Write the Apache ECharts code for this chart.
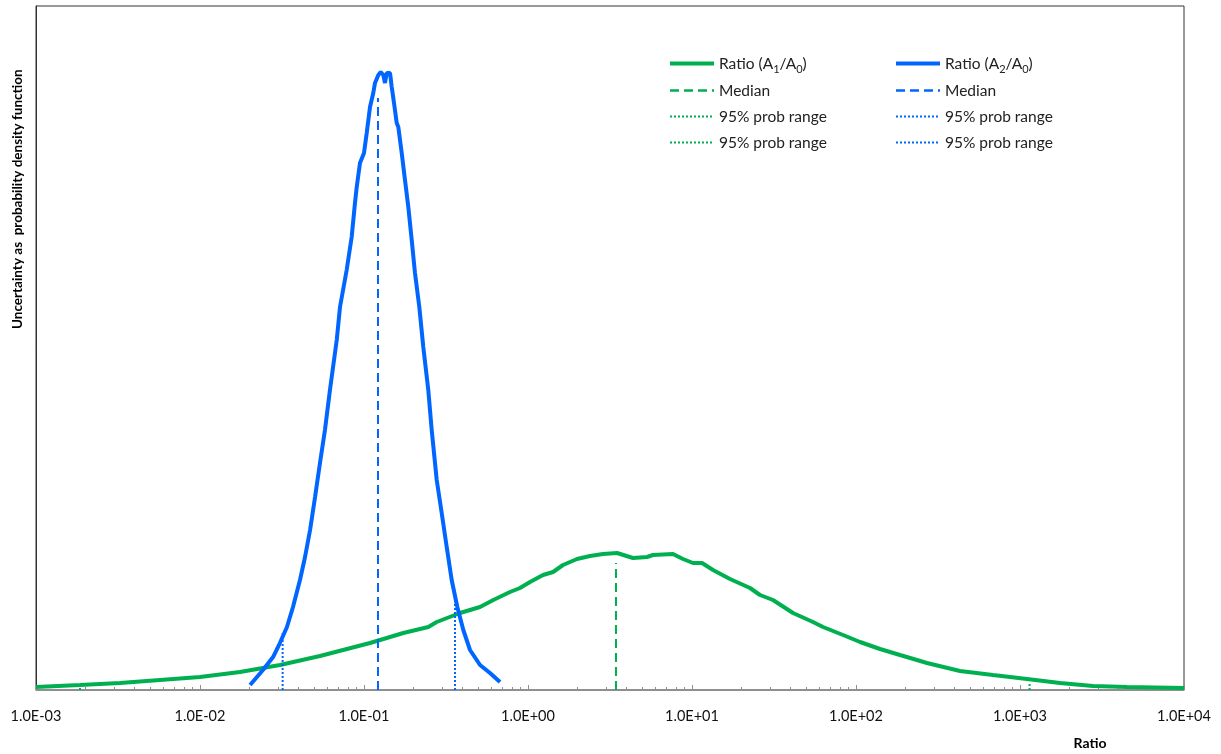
<!DOCTYPE html>
<html>
<head>
<meta charset="utf-8">
<script src="https://cdn.jsdelivr.net/npm/echarts@6/dist/echarts.min.js"></script>
<style>
html,body{margin:0;padding:0;background:#fff;}
#chart{width:1221px;height:754px;}
</style>
</head>
<body>
<div id="chart"></div>
<script>
// ---- data ----
const greenX = [0.001,0.001855,0.003252,0.005703,0.01,0.01754,0.03074,0.05391,0.1088,0.1376,0.1736,0.2466,0.2776,0.3849,0.5098,0.6143,0.7767,0.8937,1.0285,1.235,1.421,1.635,1.990,2.388,2.866,3.489,4.367,5.316,5.783,7.660,8.812,10.14,11.51,13.43,17.05,22.58,25.98,31.18,41.30,54.66,62.93,83.34,105.8,140.1,185.5,271.0,430.7,684.4,1103,1754,2787,4491,10000];
const greenY = [0.03,0.05,0.07,0.10,0.13,0.18,0.25,0.34,0.47,0.52,0.57,0.63,0.68,0.77,0.83,0.90,0.98,1.02,1.08,1.15,1.18,1.25,1.31,1.34,1.36,1.37,1.32,1.33,1.35,1.36,1.31,1.27,1.27,1.20,1.11,1.02,0.95,0.90,0.77,0.68,0.63,0.55,0.48,0.41,0.35,0.27,0.19,0.15,0.11,0.07,0.04,0.03,0.02];
const blueX = [0.0202,0.0242,0.0279,0.0307,0.0339,0.0369,0.0407,0.0437,0.0469,0.0503,0.0539,0.0578,0.0620,0.0682,0.0714,0.0784,0.0841,0.0881,0.0903,0.0945,0.1000,0.1039,0.1088,0.1139,0.1167,0.1223,0.1265,0.1312,0.1343,0.1376,0.1441,0.1476,0.1524,0.1583,0.1619,0.1698,0.1778,0.1863,0.1954,0.2046,0.2174,0.2299,0.2466,0.2587,0.2776,0.2977,0.3194,0.3425,0.3707,0.4032,0.4430,0.5098,0.5865,0.6750];
const blueY = [0.05,0.20,0.33,0.47,0.63,0.83,1.10,1.33,1.60,1.93,2.27,2.60,3.00,3.50,3.83,4.20,4.53,4.87,5.03,5.27,5.37,5.57,5.83,5.97,6.07,6.15,6.18,6.15,6.07,6.17,6.17,6.03,5.87,5.67,5.63,5.37,5.10,4.83,4.50,4.17,3.83,3.43,3.00,2.60,2.10,1.77,1.43,1.10,0.83,0.60,0.40,0.25,0.17,0.08];
// median and 95% range markers: [x, height]
const greenMedian = [3.44, 1.27];
const blueMedian = [0.1217, 5.92];
const greenRangeLo = [0.001855, 0.05];
const greenRangeHi = [1144, 0.08];
const blueRangeLo = [0.0319, 0.57];
const blueRangeHi = [0.3588, 0.90];
const majorTicks = [1e-3,1e-2,1e-1,1e0,1e1,1e2,1e3,1e4];
const minorTicks = [];
[1e-3,1e-2,1e-1,1e0,1e1,1e2,1e3].forEach(function(d){ [2,3,4,5,6,7,8,9].forEach(function(m){ minorTicks.push(+(m*d).toPrecision(3)); }); });

const GREEN = '#00b050';
const BLUE = '#0066ff';
const FONT = 'Lato, "Open Sans", sans-serif';

function zip(xs, ys){ return xs.map(function(x,i){ return [x, ys[i]]; }); }
function vline(p){ return [[p[0],0],[p[0],p[1]]]; }
function fmtExp(v){
  const e = Math.round(Math.log10(v));
  const s = e < 0 ? '-' : '+';
  const a = Math.abs(e);
  return '1.0E' + s + (a < 10 ? '0' + a : '' + a);
}

const names = {
  'g': 'Ratio (A1/A0)', 'b': 'Ratio (A2/A0)',
  'gm': 'Median A1', 'bm': 'Median A2',
  'gl': '95% lo A1', 'gh': '95% hi A1', 'bl': '95% lo A2', 'bh': '95% hi A2'
};
const display = {};
display[names.g] = '{n|Ratio (A}{s|1}{n|/A}{s|0}{n|)}';
display[names.b] = '{n|Ratio (A}{s|2}{n|/A}{s|0}{n|)}';
display[names.gm] = '{n|Median}';
display[names.bm] = '{n|Median}';
display[names.gl] = '{n|95% prob range}';
display[names.gh] = '{n|95% prob range}';
display[names.bl] = '{n|95% prob range}';
display[names.bh] = '{n|95% prob range}';

function lineSeries(name, data, color, width, type, z){
  return {
    name: name, type: 'line', data: data, symbol: 'none', showSymbol: false,
    xAxisIndex: 0, yAxisIndex: 0, z: z || 2,
    lineStyle: {color: color, width: width, type: type},
    itemStyle: {color: color},
    emphasis: {disabled: true}, silent: true
  };
}

const legendText = {
  fontFamily: FONT, fontSize: 15.5, color: '#222', lineHeight: 20,
  rich: {
    n: {fontFamily: FONT, fontSize: 15.5, color: '#222', lineHeight: 17, verticalAlign: 'top', padding: [1,0,2,0]},
    s: {fontFamily: FONT, fontSize: 11, color: '#222', lineHeight: 11, verticalAlign: 'top', padding: [9,0,0,0]}
  }
};
function legItems(list, widths){
  return list.map(function(n, i){ return {name: n, lineStyle: {width: widths[i]}}; });
}

const chart = echarts.init(document.getElementById('chart'), null, {renderer: 'canvas'});
chart.setOption({
  animation: false,
  backgroundColor: '#fff',
  grid: {left: 36, top: 6, right: 37, bottom: 64, show: true, borderColor: '#333', borderWidth: 1, backgroundColor: 'transparent'},
  legend: [
    {left: 668, top: 55, padding: 0, orient: 'vertical', itemWidth: 44, itemHeight: 14, itemGap: 7,
     data: legItems([names.g, names.gm, names.gl, names.gh], [4, 2.5, 2, 2]),
     formatter: function(n){ return display[n]; },
     itemStyle: {opacity: 0},
     textStyle: legendText, selectedMode: false},
    {left: 894, top: 55, padding: 0, orient: 'vertical', itemWidth: 44, itemHeight: 14, itemGap: 7,
     data: legItems([names.b, names.bm, names.bl, names.bh], [4, 2.5, 2, 2]),
     formatter: function(n){ return display[n]; },
     itemStyle: {opacity: 0},
     textStyle: legendText, selectedMode: false}
  ],
  xAxis: [
    {type: 'log', logBase: 10, min: 1e-3, max: 1e4, position: 'bottom',
     axisLine: {show: true, onZero: false, lineStyle: {color: '#8c8c8c', width: 1.5}},
     axisTick: {show: true, inside: true, length: 5, customValues: majorTicks, lineStyle: {color: '#8c8c8c'}},
     axisLabel: {show: true, customValues: majorTicks, formatter: fmtExp, margin: 19, fontFamily: FONT, fontSize: 14.5, color: '#111', showMinLabel: true, showMaxLabel: true},
     splitLine: {show: false}, minorTick: {show: false}},
    {type: 'log', logBase: 10, min: 1e-3, max: 1e4, position: 'bottom',
     axisLine: {show: false, onZero: false},
     axisTick: {show: true, inside: true, length: 3, customValues: minorTicks, lineStyle: {color: '#8c8c8c'}},
     axisLabel: {show: false}, splitLine: {show: false}}
  ],
  yAxis: {type: 'value', min: 0, max: 6.84,
    axisLine: {show: true, lineStyle: {color: '#333', width: 1}},
    axisTick: {show: false}, axisLabel: {show: false}, splitLine: {show: false}},
  graphic: [
    {type: 'text', x: 18, y: 329, rotation: Math.PI/2,
     style: {text: 'Uncertainty as  probability density function', fontFamily: FONT, fontSize: 13.5, fontWeight: 'bold', fill: '#000', textAlign: 'left', textVerticalAlign: 'middle'}},
    {type: 'text', x: 1090, y: 743,
     style: {text: 'Ratio', fontFamily: FONT, fontSize: 14, fontWeight: 'bold', fill: '#000', textAlign: 'center', textVerticalAlign: 'middle'}}
  ],
  series: [
    lineSeries(names.g, zip(greenX, greenY), GREEN, 4, 'solid', 2),
    lineSeries(names.gm, vline(greenMedian), GREEN, 2, [9,5], 3),
    lineSeries(names.gl, vline(greenRangeLo), GREEN, 2, [2,2], 3),
    lineSeries(names.gh, vline(greenRangeHi), GREEN, 2, [2,2], 3),
    lineSeries(names.b, zip(blueX, blueY), BLUE, 4, 'solid', 4),
    lineSeries(names.bm, vline(blueMedian), BLUE, 2, [9,5], 5),
    lineSeries(names.bl, vline(blueRangeLo), BLUE, 2, [2,2], 5),
    lineSeries(names.bh, vline(blueRangeHi), BLUE, 2, [2,2], 5)
  ]
});
</script>
</body>
</html>
